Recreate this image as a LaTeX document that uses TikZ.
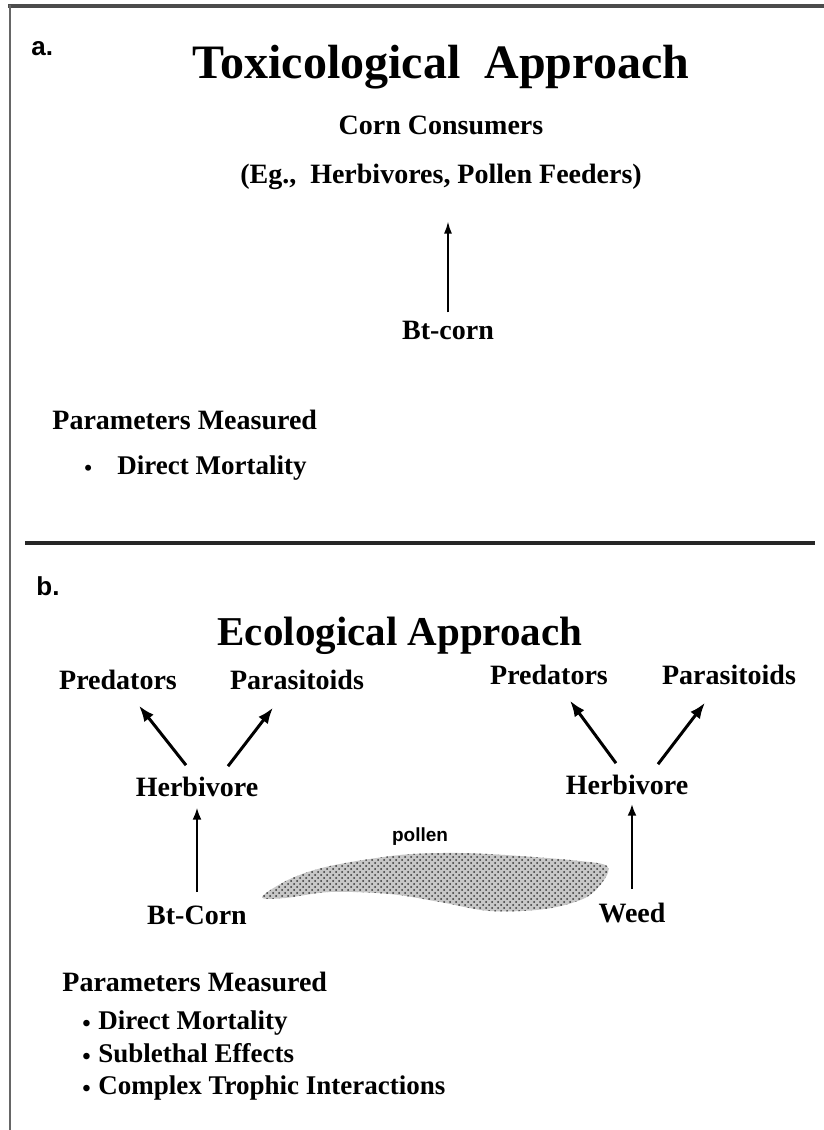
\documentclass[tikz,border=0pt]{standalone}
\usepackage{fontspec}
\setmainfont{Liberation Serif}
\newfontfamily\panelfont{Liberation Sans}
\usetikzlibrary{calc,patterns,arrows.meta}

\begin{document}
\begin{tikzpicture}[x=0.5pt, y=-0.5pt,
		lbl/.style={inner sep=0, anchor=base, font=\bfseries\fontsize{14}{16}\selectfont},
		item/.style={inner sep=0, anchor=base west, font=\bfseries\fontsize{13.5}{16}\selectfont},
		dot/.style={inner sep=0, anchor=base west, font=\bfseries\fontsize{12}{14}\selectfont},
		panel/.style={inner sep=0, anchor=base west, font=\panelfont\bfseries\fontsize{13}{15}\selectfont},
		upline/.style={line width=1pt, -{Latex[length=6pt, width=4.5pt]}},
		feedline/.style={line width=1.5pt, -{Latex[length=8pt, width=6pt]}}]
			%%%%% START %%%%%
			\useasboundingbox (0, 0) rectangle (824, 1130);
			
			\draw[line width=2pt, color=black!70] (8, 6) -- (824, 6);
			\draw[line width=1pt, color=black!60] (10, 5) -- (10, 1130);
			\draw[line width=1.8pt, color=black!85] (25, 543) -- (815, 543);
			
			% a. toxicological
			\node[panel] (panelA) at (31, 55) {a.};
			\node[lbl, font=\bfseries\fontsize{24}{28}\selectfont] (titleA) at (441, 78) {Toxicological\ \ Approach};
			\node[lbl] (consumers) at (441, 134) {Corn Consumers};
			\node[lbl] (eg) at (441, 183) {(Eg.,\ \ Herbivores, Pollen Feeders)};
			\node[lbl] (btcornA) at (448, 339) {Bt-corn};
			\draw[line width=0.8pt, -{Latex[length=6pt, width=4pt]}, shorten <=4pt, shorten >=16pt] (btcornA.north) -- (btcornA.north |- eg.south);
			
			\node[lbl, anchor=base west] (paramA) at (52, 429) {Parameters Measured};
			\node[dot, font=\bfseries\fontsize{11}{13}\selectfont] (bulletA) at (84, 475) {\textbullet};
			\node[item] (mortA) at (117, 474) {Direct Mortality};
			
			% b. ecological
			\node[panel] (panelB) at (36, 595) {b.};
			\node[lbl, font=\bfseries\fontsize{20.5}{24}\selectfont] (titleB) at (400, 645) {Ecological Approach};
			
			\node[lbl] (predL) at (118, 689) {Predators};
			\node[lbl] (parL) at (297, 689) {Parasitoids};
			\node[lbl] (herbL) at (197, 796) {Herbivore};
			\node[lbl] (btcornB) at (197, 924) {Bt-Corn};
			\draw[feedline] ($(herbL.north)+(-11,-11)$) -- ($(predL.south)+(21,16)$);
			\draw[feedline] ($(herbL.north)+(31,-10)$) -- ($(parL.south)+(-24,18)$);
			\draw[upline, shorten <=6.5pt, shorten >=5.5pt] (btcornB.north) -- (herbL.south);
			
			\node[lbl] (predR) at (549, 684) {Predators};
			\node[lbl] (parR) at (729, 684) {Parasitoids};
			\node[lbl] (herbR) at (627, 794) {Herbivore};
			\node[lbl] (weed) at (632, 922) {Weed};
			\draw[feedline] ($(herbR.north)+(-11,-11)$) -- ($(predR.south)+(21,16)$);
			\draw[feedline] ($(herbR.north)+(31,-10)$) -- ($(parR.south)+(-24,18)$);
			\draw[upline, line width=1.3pt, shorten <=6.5pt, shorten >=4.5pt] (weed.north) -- (weed.north |- herbR.south);
			
			% pollen drift
			\node[inner sep=0, font=\panelfont\bfseries\fontsize{9.5}{11}\selectfont] (pollen) at (420, 837) {pollen};
			\fill[black!22] plot[smooth cycle, tension=0.55] coordinates {(262, 897) (290, 879) (330, 866) (400, 855) (460, 853) (520, 856) (580, 861) (607, 866) (604, 880) (585, 898) (545, 909) (490, 911) (440, 902) (390, 894) (330, 892) (285, 898)};
			\fill[pattern=crosshatch dots, pattern color=black!80] plot[smooth cycle, tension=0.55] coordinates {(262, 897) (290, 879) (330, 866) (400, 855) (460, 853) (520, 856) (580, 861) (607, 866) (604, 880) (585, 898) (545, 909) (490, 911) (440, 902) (390, 894) (330, 892) (285, 898)};
			
			\node[lbl, anchor=base west] (paramB) at (62, 991) {Parameters Measured};
			\node[dot] (bulletB1) at (82, 1031) {\textbullet};
			\node[item] (mortB) at (98, 1029) {Direct Mortality};
			\node[dot] (bulletB2) at (82, 1064) {\textbullet};
			\node[item] (sublethal) at (98, 1062) {Sublethal Effects};
			\node[dot] (bulletB3) at (82, 1096) {\textbullet};
			\node[item] (trophic) at (98, 1094) {Complex Trophic Interactions};
			
			%%%%% END %%%%%
		\end{tikzpicture}
\end{document}
